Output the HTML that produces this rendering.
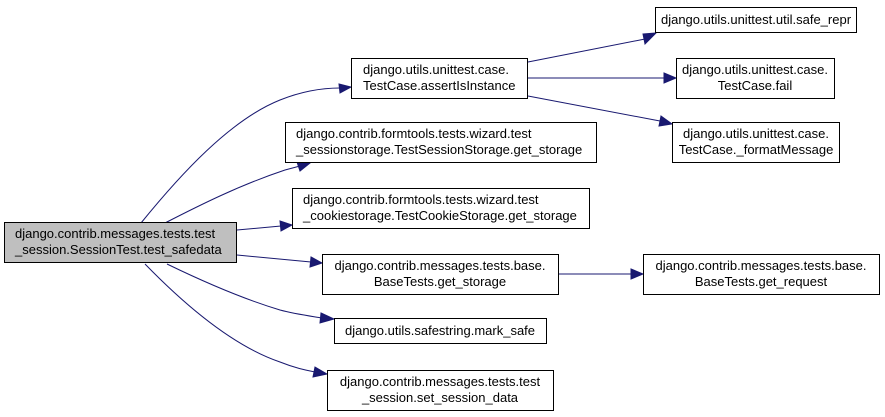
<!DOCTYPE html>
<html><head><meta charset="utf-8"><style>
html,body{margin:0;padding:0;background:#fff;}
svg{display:block}
text{font-family:"Liberation Sans",Arial,sans-serif;font-size:13px;fill:#000}
.b{fill:#fff;stroke:#000;stroke-width:1}
.e{fill:none;stroke:#191970;stroke-width:1}
.a{fill:#191970;stroke:#191970}
</style></head><body>
<svg width="885" height="417" viewBox="0 0 885 417">
<path class="e" d="M141,223 C180,175 230,120 280,100 C300,92 320,88 340,88"/>
<polygon class="a" points="339,84 351,87 340,93"/>
<path class="e" d="M165,223 C200,205 240,185 285,170 L300,166"/>
<polygon class="a" points="297,162 310,163 300,171"/>
<path class="e" d="M237,230 L281,226"/>
<polygon class="a" points="280,221 292,225 281,231"/>
<path class="e" d="M237,255 L311,262"/>
<polygon class="a" points="311,257 322,263 310,267"/>
<path class="e" d="M167,264 C200,280 240,298 280,310 C295,314 310,316 322,318"/>
<polygon class="a" points="321,313 334,319 320,323"/>
<path class="e" d="M145,264 C180,300 230,345 280,362 C295,368 305,370 315,372"/>
<polygon class="a" points="315,367 327,374 313,377"/>
<path class="e" d="M528,62 L645,39"/>
<polygon class="a" points="643,34 656,33 645,44"/>
<path class="e" d="M528,78 L664,78"/>
<polygon class="a" points="664,73 676,78 664,83"/>
<path class="e" d="M528,96 L660,121"/>
<polygon class="a" points="661,116 672,124 659,126"/>
<path class="e" d="M558,274 L631,274"/>
<polygon class="a" points="631,269 643,274 631,279"/>

<rect x="4.5" y="222.5" width="232" height="40" fill="#bfbfbf" stroke="#000"/>
<text x="15" y="238">django.contrib.messages.tests.test</text>
<text x="15" y="254">_session.SessionTest.test_safedata</text>

<rect class="b" x="351.5" y="58.5" width="176" height="40"/>
<text x="363" y="74">django.utils.unittest.case.</text>
<text x="363" y="90">TestCase.assertIsInstance</text>

<rect class="b" x="285.5" y="122.5" width="311" height="40"/>
<text x="296" y="138">django.contrib.formtools.tests.wizard.test</text>
<text x="296" y="154">_sessionstorage.TestSessionStorage.get_storage</text>

<rect class="b" x="292.5" y="188.5" width="297" height="40"/>
<text x="303" y="204">django.contrib.formtools.tests.wizard.test</text>
<text x="303" y="220">_cookiestorage.TestCookieStorage.get_storage</text>

<rect class="b" x="322.5" y="254.5" width="236" height="40"/>
<text x="440" y="270" text-anchor="middle">django.contrib.messages.tests.base.</text>
<text x="440" y="286" text-anchor="middle">BaseTests.get_storage</text>

<rect class="b" x="334.5" y="318.5" width="212" height="25"/>
<text x="440" y="335" text-anchor="middle">django.utils.safestring.mark_safe</text>

<rect class="b" x="327.5" y="370.5" width="226" height="40"/>
<text x="440" y="386" text-anchor="middle">django.contrib.messages.tests.test</text>
<text x="440" y="402" text-anchor="middle">_session.set_session_data</text>

<rect class="b" x="655.5" y="7.5" width="201" height="25"/>
<text x="756" y="24" text-anchor="middle">django.utils.unittest.util.safe_repr</text>

<rect class="b" x="676.5" y="58.5" width="158" height="40"/>
<text x="755" y="74" text-anchor="middle">django.utils.unittest.case.</text>
<text x="755" y="90" text-anchor="middle">TestCase.fail</text>

<rect class="b" x="672.5" y="122.5" width="167" height="40"/>
<text x="756" y="138" text-anchor="middle">django.utils.unittest.case.</text>
<text x="756" y="154" text-anchor="middle">TestCase._formatMessage</text>

<rect class="b" x="643.5" y="254.5" width="236" height="40"/>
<text x="761" y="270" text-anchor="middle">django.contrib.messages.tests.base.</text>
<text x="761" y="286" text-anchor="middle">BaseTests.get_request</text>
</svg>
</body></html>
